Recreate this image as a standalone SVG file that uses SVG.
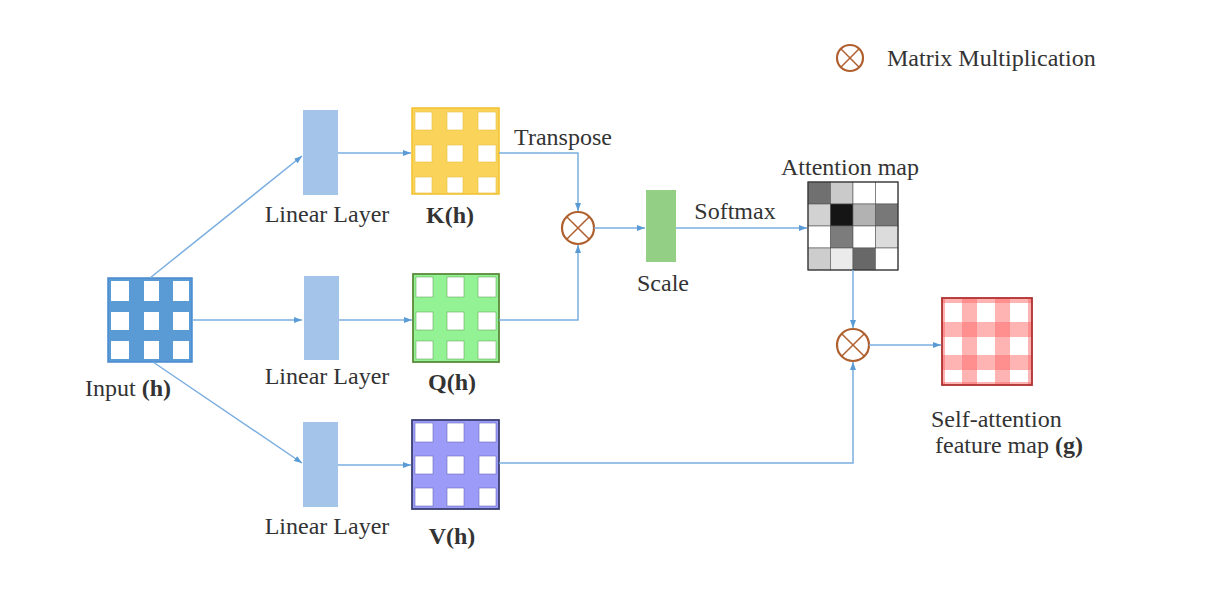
<svg xmlns="http://www.w3.org/2000/svg" width="1209" height="595" viewBox="0 0 1209 595">
<defs>
<style>
.t{font-family:"Liberation Serif","Times New Roman",serif;font-size:24px;fill:#333}
.b{font-weight:bold}
.c{stroke:#7aaee0;stroke-width:1.5;fill:none}
.w{fill:#fff}
.lin{fill:#a4c4ea}
.ox{fill:#fff;stroke:#b0602f;stroke-width:2.2}
.oxl{stroke:#b0602f;stroke-width:1.5}
.pk{fill:#ff6a6a;fill-opacity:0.5}
</style>
<marker id="ah" markerUnits="userSpaceOnUse" markerWidth="8" markerHeight="6" refX="8" refY="3" orient="auto">
<path d="M0,0 L8,3 L0,6 z" fill="#5b9bd5"/>
</marker>
</defs>
<rect width="1209" height="595" fill="#fff"/>

<g id="legend">
<circle class="ox" cx="850" cy="58" r="13"/>
<path class="oxl" d="M840.8,48.8 L859.2,67.2 M859.2,48.8 L840.8,67.2"/>
<text class="t" x="887" y="66">Matrix Multiplication</text>
</g>

<g id="input">
<rect x="108" y="278" width="84" height="84" fill="#5b9bd5" stroke="#4a8ad0" stroke-width="1.5"/>
<g class="w">
<rect x="111" y="281" width="18" height="20"/><rect x="144" y="281" width="15" height="20"/><rect x="173" y="281" width="16" height="20"/>
<rect x="111" y="312" width="18" height="18"/><rect x="144" y="312" width="15" height="18"/><rect x="173" y="312" width="16" height="18"/>
<rect x="111" y="341" width="18" height="18"/><rect x="144" y="341" width="15" height="18"/><rect x="173" y="341" width="16" height="18"/>
</g>
<text class="t" x="85" y="396">Input <tspan class="b">(h)</tspan></text>
</g>

<g id="linear1">
<rect class="lin" x="303" y="110" width="35" height="85"/>
<text class="t" x="327" y="222" text-anchor="middle">Linear Layer</text>
</g>
<g id="linear2">
<rect class="lin" x="304" y="276" width="35" height="84"/>
<text class="t" x="327" y="384" text-anchor="middle">Linear Layer</text>
</g>
<g id="linear3">
<rect class="lin" x="303" y="422" width="35" height="85"/>
<text class="t" x="327" y="534" text-anchor="middle">Linear Layer</text>
</g>

<g id="K">
<rect x="412" y="108" width="87" height="86" fill="#fad45a" stroke="#f2c12e" stroke-width="1.5"/>
<g class="w" stroke="#e8c040" stroke-width="0.6">
<rect x="415" y="112" width="17" height="18"/><rect x="447" y="112" width="16" height="18"/><rect x="478" y="112" width="18" height="18"/>
<rect x="415" y="145" width="17" height="17"/><rect x="447" y="145" width="16" height="17"/><rect x="478" y="145" width="18" height="17"/>
<rect x="415" y="177" width="17" height="16"/><rect x="447" y="177" width="16" height="16"/><rect x="478" y="177" width="18" height="16"/>
</g>
<text class="t b" x="450" y="223" text-anchor="middle">K(h)</text>
</g>

<g id="Q">
<rect x="413" y="274" width="86" height="88" fill="#93f293" stroke="#5a8a3a" stroke-width="1.8"/>
<g class="w" stroke="#6aa85a" stroke-width="0.6">
<rect x="416" y="277" width="17" height="20"/><rect x="447" y="277" width="17" height="20"/><rect x="478" y="277" width="18" height="20"/>
<rect x="416" y="312" width="17" height="18"/><rect x="447" y="312" width="17" height="18"/><rect x="478" y="312" width="18" height="18"/>
<rect x="416" y="341" width="17" height="18"/><rect x="447" y="341" width="17" height="18"/><rect x="478" y="341" width="18" height="18"/>
</g>
<text class="t b" x="452" y="390" text-anchor="middle">Q(h)</text>
</g>

<g id="V">
<rect x="412" y="420" width="87" height="89" fill="#9c9cf8" stroke="#3a3f70" stroke-width="1.8"/>
<g class="w" stroke="#6a6ac0" stroke-width="0.6">
<rect x="415" y="423" width="18" height="19"/><rect x="447" y="423" width="17" height="19"/><rect x="479" y="423" width="17" height="19"/>
<rect x="415" y="456" width="18" height="18"/><rect x="447" y="456" width="17" height="18"/><rect x="479" y="456" width="17" height="18"/>
<rect x="415" y="488" width="18" height="18"/><rect x="447" y="488" width="17" height="18"/><rect x="479" y="488" width="17" height="18"/>
</g>
<text class="t b" x="452" y="544" text-anchor="middle">V(h)</text>
</g>

<g id="matmul1">
<circle class="ox" cx="578" cy="228" r="16"/>
<path class="oxl" d="M566.7,216.7 L589.3,239.3 M589.3,216.7 L566.7,239.3"/>
</g>

<g id="scale">
<rect x="646" y="190" width="30" height="72" fill="#93cf84"/>
<text class="t" x="663" y="291" text-anchor="middle">Scale</text>
</g>

<g id="attention">
<text class="t" x="850" y="175" text-anchor="middle">Attention map</text>
<g stroke="#555" stroke-width="0.6">
<rect x="808" y="182" width="22.5" height="22" fill="#707070"/>
<rect x="830.5" y="182" width="22.5" height="22" fill="#cacaca"/>
<rect x="853" y="182" width="22.5" height="22" fill="#fff"/>
<rect x="875.5" y="182" width="22.5" height="22" fill="#fff"/>
<rect x="808" y="204" width="22.5" height="22" fill="#d2d2d2"/>
<rect x="830.5" y="204" width="22.5" height="22" fill="#151515"/>
<rect x="853" y="204" width="22.5" height="22" fill="#b2b2b2"/>
<rect x="875.5" y="204" width="22.5" height="22" fill="#787878"/>
<rect x="808" y="226" width="22.5" height="22" fill="#fff"/>
<rect x="830.5" y="226" width="22.5" height="22" fill="#7c7c7c"/>
<rect x="853" y="226" width="22.5" height="22" fill="#fff"/>
<rect x="875.5" y="226" width="22.5" height="22" fill="#dcdcdc"/>
<rect x="808" y="248" width="22.5" height="22" fill="#cdcdcd"/>
<rect x="830.5" y="248" width="22.5" height="22" fill="#ebebeb"/>
<rect x="853" y="248" width="22.5" height="22" fill="#686868"/>
<rect x="875.5" y="248" width="22.5" height="22" fill="#fff"/>
</g>
<rect x="808" y="182" width="90" height="88" fill="none" stroke="#333" stroke-width="1.2"/>
</g>

<g id="matmul2">
<circle class="ox" cx="853" cy="345" r="16"/>
<path class="oxl" d="M841.7,333.7 L864.3,356.3 M864.3,333.7 L841.7,356.3"/>
</g>

<g id="output">
<rect x="942" y="298" width="90" height="87" fill="#fff"/>
<rect class="pk" x="942" y="298" width="3" height="87"/><rect class="pk" x="962" y="298" width="15" height="87"/><rect class="pk" x="995" y="298" width="15" height="87"/><rect class="pk" x="1028" y="298" width="4" height="87"/>
<rect class="pk" x="942" y="298" width="90" height="5"/><rect class="pk" x="942" y="322" width="90" height="15"/><rect class="pk" x="942" y="355" width="90" height="15"/><rect class="pk" x="942" y="382" width="90" height="3"/>
<rect x="942" y="298" width="90" height="87" fill="none" stroke="#b03030" stroke-width="1.8"/>
<text class="t" x="931" y="427">Self-attention</text>
<text class="t" x="935" y="453">feature map <tspan class="b">(g)</tspan></text>
</g>

<g id="connectors">
<path class="c" d="M150,278 L302,156" marker-end="url(#ah)"/>
<path class="c" d="M192,320 L302,320" marker-end="url(#ah)"/>
<path class="c" d="M153,362 L302,463" marker-end="url(#ah)"/>
<path class="c" d="M338,153 L411,153" marker-end="url(#ah)"/>
<path class="c" d="M339,320 L412,320" marker-end="url(#ah)"/>
<path class="c" d="M338,465 L411,465" marker-end="url(#ah)"/>
<path class="c" d="M499,153 H578 V211" marker-end="url(#ah)"/>
<path class="c" d="M499,320 H578 V245" marker-end="url(#ah)"/>
<path class="c" d="M594,228 L645,228" marker-end="url(#ah)"/>
<path class="c" d="M676,228 L807,228" marker-end="url(#ah)"/>
<path class="c" d="M853,270 L853,328" marker-end="url(#ah)"/>
<path class="c" d="M499,463 H853 V362" marker-end="url(#ah)"/>
<path class="c" d="M869,345 L941,345" marker-end="url(#ah)"/>
<text class="t" x="563" y="145" text-anchor="middle">Transpose</text>
<text class="t" x="735" y="219" text-anchor="middle">Softmax</text>
</g>
</svg>
